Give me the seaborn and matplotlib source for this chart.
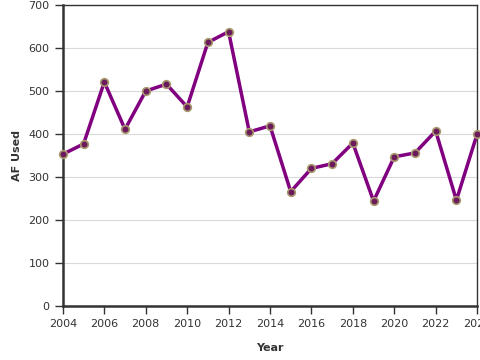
import numpy as np
import pandas as pd
import matplotlib
matplotlib.use('Agg')
import matplotlib.pyplot as plt
import seaborn as sns

years = list(range(2004, 2025))
af_used = [353, 377, 521, 411, 500, 516, 463, 613, 638, 405, 419,
           266, 320, 331, 379, 244, 347, 356, 407, 246, 400]

df = pd.DataFrame({'Year': years, 'AF Used': af_used})

sns.set_style('white')
plt.rcParams['font.family'] = ['DejaVu Sans']

fig = plt.figure(figsize=(4.8, 3.6), dpi=100)
ax = fig.add_axes([0.131, 0.15, 0.863, 0.836])

ax.yaxis.grid(True, color='#d9d9d9', linewidth=0.8)
ax.set_axisbelow(True)

sns.lineplot(data=df, x='Year', y='AF Used', ax=ax, color='#800080',
             linewidth=2.5, marker='o', markersize=5.5,
             markerfacecolor='#6b1a5c', markeredgecolor='#a89a6e',
             markeredgewidth=1.2, clip_on=False, zorder=3)

ax.set_xlim(2004, 2024)
ax.set_ylim(0, 700)
ax.set_xticks(range(2004, 2025, 2))
ax.set_yticks(range(0, 701, 100))

for s in ['left', 'bottom']:
    ax.spines[s].set_color('#333333')
    ax.spines[s].set_linewidth(1.8)
for s in ['top', 'right']:
    ax.spines[s].set_color('#333333')
    ax.spines[s].set_linewidth(1.0)

ax.tick_params(axis='both', which='both', length=6, width=1, color='#333333',
               labelsize=8, labelcolor='#333333', bottom=True, left=True)

ax.set_xlabel('Year', fontsize=8, fontweight='bold', color='#333333', labelpad=10)
ax.set_ylabel('AF Used', fontsize=8, fontweight='bold', color='#333333', labelpad=5)

fig.savefig('out.png', dpi=100)
